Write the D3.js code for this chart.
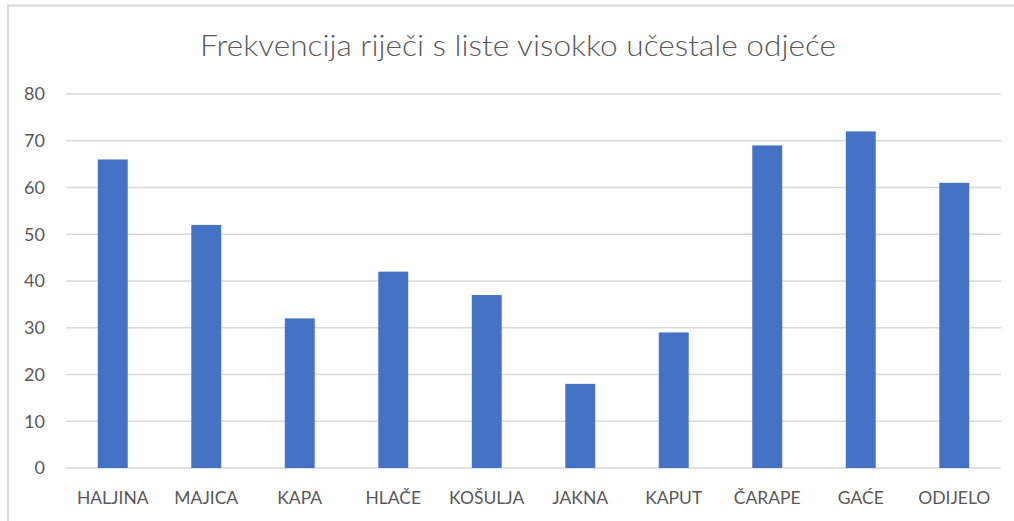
<!DOCTYPE html>
<html>
<head>
<meta charset="utf-8">
<script src="https://cdn.jsdelivr.net/npm/d3@7"></script>
<style>
  body { margin: 0; background: #fff; }
  svg { display: block; }
</style>
</head>
<body>
<script>
const title = 'Frekvencija riječi s liste visokko učestale odjeće'
const categories = ['HALJINA', 'MAJICA', 'KAPA', 'HLAČE', 'KOŠULJA', 'JAKNA', 'KAPUT', 'ČARAPE', 'GAĆE', 'ODIJELO']
const values = [66, 52, 32, 42, 37, 18, 29, 69, 72, 61]
const yTicks = [0, 10, 20, 30, 40, 50, 60, 70, 80]

const width = 1014
const height = 521
const margin = { top: 94, right: 13, bottom: 53, left: 66 }
const font = 'Lato, "Open Sans", sans-serif'
const textColor = '#595959'
const gridColor = '#d9d9d9'

const svg = d3.select('body').append('svg')
  .attr('width', width)
  .attr('height', height)

// outer chart frame (right/bottom edges are cropped in the source)
svg.append('path')
  .attr('d', `M8,${height} V5.5 H${width}`)
  .attr('fill', 'none')
  .attr('stroke', gridColor)
  .attr('stroke-width', 2)

svg.append('text')
  .attr('x', 518)
  .attr('y', 56)
  .attr('text-anchor', 'middle')
  .attr('font-family', font)
  .attr('font-weight', 300)
  .attr('font-size', 29)
  .attr('textLength', 636)
  .attr('lengthAdjust', 'spacingAndGlyphs')
  .attr('fill', textColor)
  .text(title)

const x = d3.scaleBand()
  .domain(categories)
  .range([margin.left, width - margin.right])
  .paddingInner(0.68)
  .paddingOuter(0.34)

const y = d3.scaleLinear()
  .domain([0, 80])
  .range([height - margin.bottom, margin.top])

// gridlines
svg.append('g')
  .selectAll('line')
  .data(yTicks)
  .join('line')
  .attr('x1', margin.left)
  .attr('x2', width - margin.right)
  .attr('y1', d => y(d))
  .attr('y2', d => y(d))
  .attr('stroke', gridColor)
  .attr('stroke-width', 1.5)

// y axis labels
svg.append('g')
  .selectAll('text')
  .data(yTicks)
  .join('text')
  .attr('x', 45)
  .attr('y', d => y(d))
  .attr('dy', '0.35em')
  .attr('text-anchor', 'end')
  .attr('font-family', font)
  .attr('font-size', 18)
  .attr('fill', textColor)
  .text(d => d)

// bars
svg.append('g')
  .attr('fill', '#4472C4')
  .selectAll('rect')
  .data(values)
  .join('rect')
  .attr('x', (d, i) => x(categories[i]))
  .attr('width', x.bandwidth())
  .attr('y', d => y(d))
  .attr('height', d => y(0) - y(d))

// x axis labels
svg.append('g')
  .selectAll('text')
  .data(categories)
  .join('text')
  .attr('x', d => x(d) + x.bandwidth() / 2)
  .attr('y', 504)
  .attr('text-anchor', 'middle')
  .attr('font-family', font)
  .attr('font-size', 17.5)
  .attr('fill', textColor)
  .text(d => d)
</script>
</body>
</html>
